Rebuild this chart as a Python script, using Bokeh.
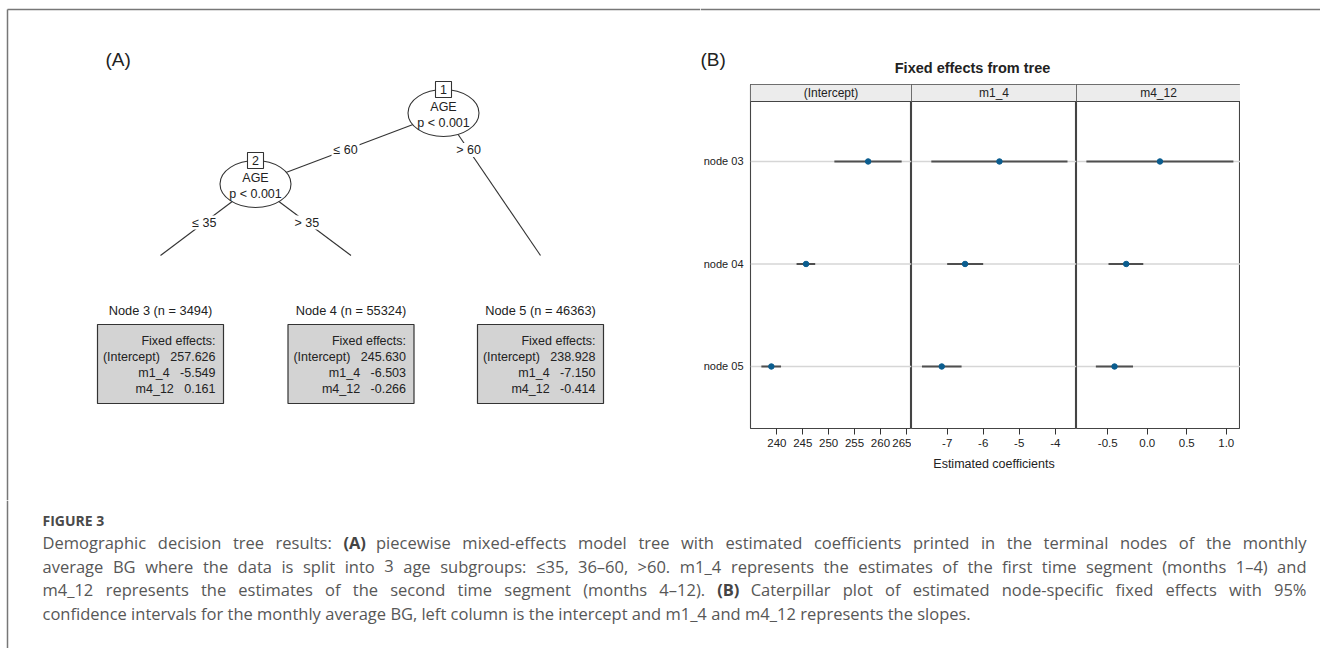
from bokeh.plotting import figure
from bokeh.models import Range1d, FixedTicker, Spacer, Span
from bokeh.layouts import row, column
from bokeh.embed import file_html
from bokeh.resources import INLINE
from bokeh.core.properties import value

# ---------------- data ----------------
node_labels = ["node 03", "node 04", "node 05"]
terminal_ids = [3, 4, 5]
node_n = [3494, 55324, 46363]
coef_names = ["(Intercept)", "m1_4", "m4_12"]

est_intercept = [257.626, 245.630, 238.928]
lo_intercept = [251.1, 243.8, 237.0]
hi_intercept = [264.1, 247.4, 240.8]

est_m1_4 = [-5.549, -6.503, -7.150]
lo_m1_4 = [-7.44, -7.00, -7.70]
hi_m1_4 = [-3.66, -6.00, -6.60]

est_m4_12 = [0.161, -0.266, -0.414]
lo_m4_12 = [-0.77, -0.49, -0.65]
hi_m4_12 = [1.09, -0.05, -0.18]

ticks_intercept = [240, 245, 250, 255, 260, 265]
tick_labels_intercept = ["240", "245", "250", "255", "260", "265"]
ticks_m1_4 = [-7, -6, -5, -4]
tick_labels_m1_4 = ["-7", "-6", "-5", "-4"]
ticks_m4_12 = [-0.5, 0.0, 0.5, 1.0]
tick_labels_m4_12 = ["-0.5", "0.0", "0.5", "1.0"]

inner_ids = [1, 2]
split_var = ["AGE", "AGE"]
split_p = ["p < 0.001", "p < 0.001"]
edge_labels = ["\u2264 60", "> 60", "\u2264 35", "> 35"]

caption_head = "FIGURE 3"
caption_lines = [
    "Demographic decision tree results: (A) piecewise mixed-effects model tree with estimated coefficients printed in the terminal nodes of the monthly",
    "average BG where the data is split into 3 age subgroups: \u226435, 36\u201360, >60. m1_4 represents the estimates of the first time segment (months 1\u20134) and",
    "m4_12 represents the estimates of the second time segment (months 4\u201312). (B) Caterpillar plot of estimated node-specific fixed effects with 95%",
    "confidence intervals for the monthly average BG, left column is the intercept and m1_4 and m4_12 represents the slopes.",
]
caption_bold_words = ["(A)", "(B)"]

# ---------------- style / layout ----------------
FONT = value("Liberation Sans")
CAPFONT = value("Open Sans")
TXT = "#222222"
BORDER = "#777777"

# tree layout (pixel positions of the drawing)
inner_pos = {1: (443, 112.5), 2: (255, 183.5)}
term_x = {3: 160, 4: 350.5, 5: 540}
term_top = 255
edges = [(1, ("i", 2), 149.5), (1, ("t", 5), 149.5), (2, ("t", 3), 222), (2, ("t", 4), 222)]


def base_fig(w, h, xr, yr, **kw):
    p = figure(width=w, height=h, x_range=Range1d(*xr), y_range=Range1d(*yr),
               output_backend="svg", toolbar_location=None,
               x_axis_location=None, y_axis_location=None,
               min_border=0, **kw)
    p.grid.visible = False
    p.outline_line_color = None
    return p


# ---------------- panel A (tree) ----------------
figA = base_fig(700, 500, (0, 700), (500, 0))
figA.segment(x0=[7, 7], y0=[9, 9], x1=[700, 7], y1=[9, 500], line_color=BORDER, line_width=1.5)
figA.text(x=[105], y=[59], text=["(A)"], text_font=FONT, text_font_size="19px",
          text_color=TXT, text_align="left", text_baseline="middle")

ex0, ey0, ex1, ey1, lx, ly = [], [], [], [], [], []
for parent, (kind, child), label_y in edges:
    x0, y0 = inner_pos[parent]
    if kind == "i":
        x1, y1 = inner_pos[child]
    else:
        x1, y1 = term_x[child], term_top
    ex0.append(x0); ey0.append(y0); ex1.append(x1); ey1.append(y1)
    t = (label_y - y0) / (y1 - y0)
    lx.append(x0 + t * (x1 - x0)); ly.append(label_y)
figA.segment(x0=ex0, y0=ey0, x1=ex1, y1=ey1, line_color="#333333", line_width=1.1)

figA.rect(x=lx, y=ly, width=28, height=14, fill_color="white", line_color=None)
figA.text(x=lx, y=ly, text=edge_labels, text_font=FONT, text_font_size="12.5px",
          text_color=TXT, text_align="center", text_baseline="middle")

ix = [inner_pos[i][0] for i in inner_ids]
iy = [inner_pos[i][1] for i in inner_ids]
figA.ellipse(x=ix, y=iy, width=71, height=47, fill_color="white", line_color="#333333", line_width=1.1)
figA.text(x=ix, y=[v - 6.5 for v in iy], text=split_var, text_font=FONT, text_font_size="12.5px",
          text_color=TXT, text_align="center", text_baseline="middle")
figA.text(x=ix, y=[v + 9.5 for v in iy], text=split_p, text_font=FONT, text_font_size="12.5px",
          text_color=TXT, text_align="center", text_baseline="middle")
figA.rect(x=ix, y=[v - 23.5 for v in iy], width=16, height=16, fill_color="white",
          line_color="#333333", line_width=1.1)
figA.text(x=ix, y=[v - 23.5 for v in iy], text=[str(i) for i in inner_ids], text_font=FONT,
          text_font_size="12.5px", text_color=TXT, text_align="center", text_baseline="middle")

tx = [term_x[i] for i in terminal_ids]
figA.quad(left=[v - 63 for v in tx], right=[v + 63 for v in tx], top=[324] * 3, bottom=[403] * 3,
          fill_color="#d3d3d3", line_color="#333333", line_width=1.2)
figA.text(x=tx, y=[310] * 3, text=[f"Node {i} (n = {n})" for i, n in zip(terminal_ids, node_n)],
          text_font=FONT, text_font_size="12.8px", text_color=TXT, text_align="center",
          text_baseline="middle")
SP = "\u00a0\u00a0\u00a0"
rows_y = [340, 356.5, 372.5, 388]
for k, cx in enumerate(tx):
    lines = ["Fixed effects:",
             f"{coef_names[0]}{SP}{est_intercept[k]:.3f}",
             f"{coef_names[1]}{SP}{est_m1_4[k]:.3f}",
             f"{coef_names[2]}{SP}{est_m4_12[k]:.3f}"]
    figA.text(x=[cx + 55] * 4, y=rows_y, text=lines, text_font=FONT, text_font_size="12.5px",
              text_color=TXT, text_align="right", text_baseline="middle")

# ---------------- panel B header ----------------
head = base_fig(620, 82, (700, 1320), (82, 0))
head.segment(x0=[700], y0=[9], x1=[1320], y1=[9], line_color=BORDER, line_width=1.5)
head.text(x=[700], y=[59], text=["(B)"], text_font=FONT, text_font_size="19px",
          text_color=TXT, text_align="left", text_baseline="middle")
head.text(x=[972], y=[67], text=["Fixed effects from tree"], text_font=FONT,
          text_font_size="14.5px", text_font_style="bold", text_color=TXT,
          text_align="center", text_baseline="middle")

# ---------------- panel B facets ----------------
ys = [i + 1 for i in range(len(node_labels))]
Y_RANGE = (3.605, 0.249)
STRIP_BOTTOM = 0.415


def facet(name, est, lo, hi, xr, ticks, tick_labels, width, left, show_y=False, xlabel=None):
    p = figure(width=width, height=418, x_range=Range1d(*xr), y_range=Range1d(*Y_RANGE),
               output_backend="svg", toolbar_location=None,
               x_axis_location="below", y_axis_location="left" if show_y else None,
               min_border_left=left, min_border_right=0, min_border_top=2, min_border_bottom=72)
    p.grid.visible = False
    p.outline_line_color = "#444444"
    p.outline_line_width = 1.1
    # strip
    p.quad(left=[xr[0]], right=[xr[1]], top=[Y_RANGE[1]], bottom=[STRIP_BOTTOM],
           fill_color="#ececec", line_color=None)
    p.add_layout(Span(location=STRIP_BOTTOM, dimension="width", line_color="#444444", line_width=1.2))
    p.text(x=[(xr[0] + xr[1]) / 2], y=[(Y_RANGE[1] + STRIP_BOTTOM) / 2], text=[name],
           text_font=FONT, text_font_size="12px", text_color=TXT,
           text_align="center", text_baseline="middle")
    for y in ys:
        p.add_layout(Span(location=y, dimension="width", line_color="#d6d6d6", line_width=1.5,
                          level="underlay"))
    p.segment(x0=lo, y0=ys, x1=hi, y1=ys, line_color="#4f4f4f", line_width=2.2)
    p.scatter(x=est, y=ys, size=5.5, marker="circle", fill_color="#0b5d8f", line_color="#0b5d8f")
    ax = p.xaxis[0]
    ax.ticker = FixedTicker(ticks=ticks)
    ax.major_label_overrides = {t: l for t, l in zip(ticks, tick_labels)}
    ax.axis_line_color = None
    ax.major_tick_out = 6
    ax.major_tick_in = 0
    ax.major_tick_line_color = "#333333"
    ax.minor_tick_line_color = None
    ax.major_label_text_font = "Liberation Sans"
    ax.major_label_text_font_size = "11.5px"
    ax.major_label_text_color = TXT
    ax.major_label_standoff = 4
    if xlabel:
        ax.axis_label = xlabel
        ax.axis_label_text_font = "Liberation Sans"
        ax.axis_label_text_font_size = "12.5px"
        ax.axis_label_text_font_style = "normal"
        ax.axis_label_text_color = TXT
        ax.axis_label_standoff = 7
    if show_y:
        yax = p.yaxis[0]
        yax.ticker = FixedTicker(ticks=ys)
        yax.major_label_overrides = {y: l for y, l in zip(ys, node_labels)}
        yax.axis_line_color = None
        yax.major_tick_out = 0
        yax.major_tick_in = 0
        yax.major_tick_line_color = None
        yax.minor_tick_line_color = None
        yax.major_label_text_font = "Liberation Sans"
        yax.major_label_text_font_size = "11px"
        yax.major_label_text_color = TXT
        yax.major_label_standoff = 7
    return p


b1 = facet(coef_names[0], est_intercept, lo_intercept, hi_intercept, (234.9, 266.0),
           ticks_intercept, tick_labels_intercept, 211, 47, show_y=True)
b2 = facet(coef_names[1], est_m1_4, lo_m1_4, hi_m1_4, (-7.99, -3.41),
           ticks_m1_4, tick_labels_m1_4, 165, 0, xlabel="Estimated coefficients")
b3 = facet(coef_names[2], est_m4_12, lo_m4_12, hi_m4_12, (-0.895, 1.18),
           ticks_m4_12, tick_labels_m4_12, 164, 0)

right = column(head, row(b1, b2, b3, Spacer(width=80, height=418)))

# ---------------- caption (justified, word by word) ----------------
OS_W = {" ": 532, "!": 547, "%": 1686, "(": 586, ")": 586, ",": 502, "-": 659, ".": 545,
        ":": 545, "<": 1171, ">": 1171, "=": 1171, "_": 918, "\u2013": 1024, "\u2264": 1171,
        "A": 1296, "B": 1327, "C": 1292, "D": 1493, "E": 1139, "F": 1057, "G": 1491, "H": 1511,
        "I": 571, "J": 547, "K": 1257, "L": 1063, "M": 1849, "N": 1544, "O": 1595, "P": 1233,
        "Q": 1595, "R": 1266, "S": 1124, "T": 1143, "U": 1511, "V": 1235, "W": 1894, "X": 1212,
        "Y": 1167, "Z": 1169,
        "a": 1139, "b": 1255, "c": 975, "d": 1255, "e": 1149, "f": 694, "g": 1122, "h": 1257,
        "i": 518, "j": 518, "k": 1075, "l": 518, "m": 1905, "n": 1257, "o": 1237, "p": 1255,
        "q": 1255, "r": 836, "s": 977, "t": 723, "u": 1257, "v": 1026, "w": 1593, "x": 1073,
        "y": 1028, "z": 977}
CAP_FS = 16.5
CAP_L, CAP_R = 42, 1306


def word_width(w, bold=False):
    units = sum(OS_W.get(ch, 1171 if ch.isdigit() else 1100) for ch in w)
    return units / 2048 * CAP_FS * (1.06 if bold else 1.0)


cap = base_fig(1320, 148, (0, 1320), (648, 500))
cap.segment(x0=[7], y0=[500], x1=[7], y1=[648], line_color=BORDER, line_width=1.5)
cap.text(x=[42], y=[520], text=[caption_head], text_font=CAPFONT, text_font_size="14px",
         text_font_style="bold", text_color="#4a4a4a", text_align="left", text_baseline="middle")

norm = {"x": [], "y": [], "t": [], "a": []}
bold = {"x": [], "y": [], "t": [], "a": []}
for li, line in enumerate(caption_lines):
    yline = 542 + 23.6 * li
    words = line.split(" ")
    widths = [word_width(w, w in caption_bold_words) for w in words]
    justify = li < len(caption_lines) - 1
    if justify:
        gap = (CAP_R - CAP_L - sum(widths)) / (len(words) - 1)
    else:
        gap = OS_W[" "] / 2048 * CAP_FS
    xpos = CAP_L
    for wi, (w, ww) in enumerate(zip(words, widths)):
        tgt = bold if w in caption_bold_words else norm
        if justify and wi == len(words) - 1:
            tgt["x"].append(CAP_R); tgt["a"].append("right")
        else:
            tgt["x"].append(xpos); tgt["a"].append("left")
        tgt["y"].append(yline); tgt["t"].append(w)
        xpos += ww + gap

cap.text(x=norm["x"], y=norm["y"], text=norm["t"], text_align=norm["a"], text_font=CAPFONT,
         text_font_size=f"{CAP_FS}px", text_color="#575757", text_baseline="middle")
cap.text(x=bold["x"], y=bold["y"], text=bold["t"], text_align=bold["a"], text_font=CAPFONT,
         text_font_size=f"{CAP_FS}px", text_font_style="bold", text_color="#444444",
         text_baseline="middle")

layout = column(row(figA, right), cap)
open("out.html", "w").write(file_html(layout, INLINE))
